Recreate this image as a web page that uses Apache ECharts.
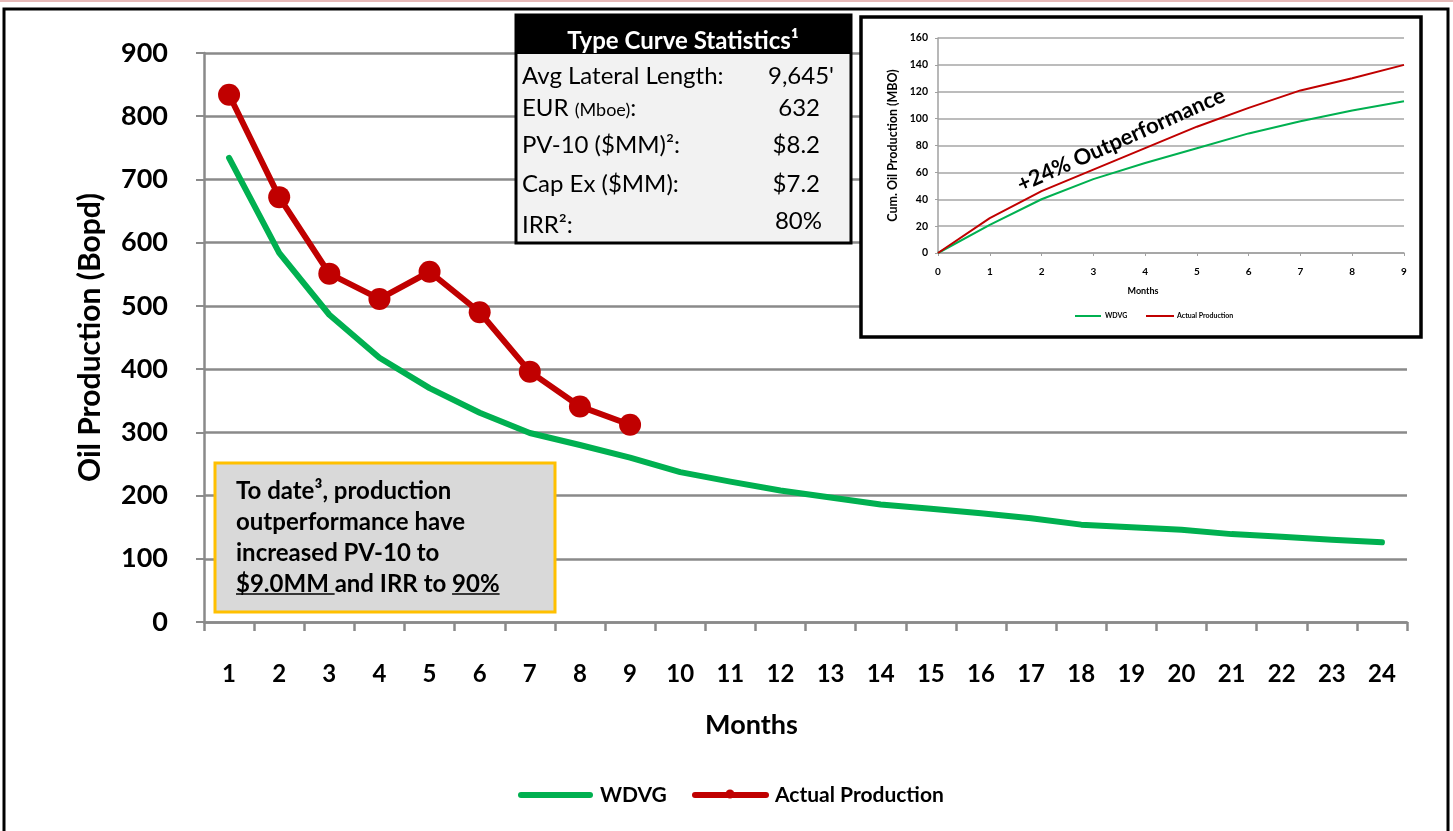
<!DOCTYPE html>
<html>
<head>
<meta charset="utf-8">
<script src="https://cdn.jsdelivr.net/npm/echarts@6/dist/echarts.min.js"></script>
<style>
  html, body { margin: 0; padding: 0; background: #fff; }
  #chart { width: 1453px; height: 831px; }
</style>
</head>
<body>
<div id="chart"></div>
<script>
// Daily oil rate by month: type curve vs. actual wells
const months = ['1','2','3','4','5','6','7','8','9','10','11','12','13','14','15','16','17','18','19','20','21','22','23','24'];
const wdvgRate = [734, 584, 486, 418, 370, 331, 299, 280, 260, 237, 222, 208, 197, 186, 179, 172, 164, 154, 150, 146, 139, 135, 130, 126];
const actualRate = [834, 672, 551, 511, 554, 490, 396, 341, 312];

// Cumulative oil (MBO) for the inset
const cumMonths = ['0','1','2','3','4','5','6','7','8','9'];
const wdvgCum = [0, 21, 40, 55, 67, 78, 89, 98, 106, 113];
const actualCum = [0, 26, 46, 62, 78, 94, 108, 121, 130, 140];

// Type curve statistics table
const statLabels = ['Avg Lateral Length:', 'EUR {s|(Mboe)}:', 'PV-10 ($MM)²:', 'Cap Ex ($MM):', 'IRR²:'];
const statValues = ["9,645'", '632', '$8.2', '$7.2', '80%'];

const GREEN = '#00b050';
const RED = '#c00000';
const GRID = '#8a8a8a';
const FONT = 'Lato, "Open Sans", sans-serif';

const chart = echarts.init(document.getElementById('chart'), null, { renderer: 'canvas' });

// width helper for the underlined phrases in the note box
const measureCtx = document.createElement('canvas').getContext('2d');
function textWidth(str, font) { measureCtx.font = font; return measureCtx.measureText(str).width; }

const noteFont = 'bold 24px ' + FONT;
const noteX = 236;
const noteTop = 476;
const noteLH = 31;
const line4a = '$9.0MM ';
const line4b = 'and IRR to ';
const line4c = '90%';
const w4a = textWidth(line4a, noteFont);
const w4b = textWidth(line4b, noteFont);
const w4c = textWidth(line4c, noteFont);
const ulY = noteTop + noteLH * 3 + 25;

const statsRowY = [76, 108, 145, 184, 225];
const statsValueRight = [834, 820, 820, 820, 822];

const graphics = [
  // page frame
  { type: 'line', shape: { x1: 0, y1: 1, x2: 1453, y2: 1 }, style: { stroke: '#e6b9b8', lineWidth: 2 }, z: 10 },
  { type: 'rect', shape: { x: 4, y: 9, width: 1444, height: 840 }, style: { fill: 'none', stroke: '#000', lineWidth: 3 }, z: 10 },

  // statistics table
  { type: 'rect', shape: { x: 516, y: 15, width: 335, height: 228 }, style: { fill: '#f2f2f2', stroke: '#000', lineWidth: 3 }, z: 3 },
  { type: 'rect', shape: { x: 516, y: 15, width: 335, height: 39 }, style: { fill: '#000' }, z: 3 },
  { type: 'text', x: 683, y: 41, style: { text: 'Type Curve Statistics¹', fill: '#fff', font: 'bold 24px ' + FONT, align: 'center', verticalAlign: 'middle' }, z: 4 }
];

statLabels.forEach(function (lab, i) {
  graphics.push({
    type: 'text', x: 522, y: statsRowY[i],
    style: {
      text: lab, fill: '#000', font: '24px ' + FONT, align: 'left', verticalAlign: 'middle',
      rich: { s: { fontSize: 18, fontFamily: FONT, fill: '#000', padding: [5, 0, 0, 0] } }
    }, z: 4
  });
  graphics.push({
    type: 'text', x: statsValueRight[i], y: statsRowY[i] - (i === 4 ? 4 : 0),
    style: { text: statValues[i], fill: '#000', font: '24px ' + FONT, align: 'right', verticalAlign: 'middle' }, z: 4
  });
});

// note box
graphics.push(
  { type: 'rect', shape: { x: 215, y: 463, width: 340, height: 149 }, style: { fill: '#d9d9d9', stroke: '#ffc000', lineWidth: 3 }, z: 3 },
  { type: 'text', x: noteX, y: noteTop,
    style: { text: 'To date³, production\noutperformance have\nincreased PV-10 to\n' + line4a + line4b + line4c,
             fill: '#000', font: noteFont, lineHeight: noteLH, align: 'left', verticalAlign: 'top' }, z: 4 },
  { type: 'line', shape: { x1: noteX, y1: ulY, x2: noteX + w4a, y2: ulY }, style: { stroke: '#000', lineWidth: 1.5 }, z: 4 },
  { type: 'line', shape: { x1: noteX + w4a + w4b, y1: ulY, x2: noteX + w4a + w4b + w4c, y2: ulY }, style: { stroke: '#000', lineWidth: 1.5 }, z: 4 }
);

// inset frame, annotation and key
graphics.push(
  { type: 'rect', shape: { x: 861, y: 17, width: 560, height: 320 }, style: { fill: '#fff', stroke: '#000', lineWidth: 3.5 }, z: 3 },
  { type: 'text', x: 1121, y: 140, rotation: 24 * Math.PI / 180,
    style: { text: '+24% Outperformance', fill: '#000', font: 'bold 22px ' + FONT, align: 'center', verticalAlign: 'middle' }, z: 8 },
  { type: 'line', shape: { x1: 1075, y1: 316, x2: 1101, y2: 316 }, style: { stroke: GREEN, lineWidth: 2 }, z: 8 },
  { type: 'text', x: 1105, y: 316, style: { text: 'WDVG', fill: '#000', font: 'bold 7px ' + FONT, align: 'left', verticalAlign: 'middle' }, z: 8 },
  { type: 'line', shape: { x1: 1146, y1: 316, x2: 1174, y2: 316 }, style: { stroke: RED, lineWidth: 2 }, z: 8 },
  { type: 'text', x: 1177, y: 316, style: { text: 'Actual Production', fill: '#000', font: 'bold 7px ' + FONT, align: 'left', verticalAlign: 'middle' }, z: 8 }
);

// main key below the plot
graphics.push(
  { type: 'line', shape: { x1: 521, y1: 795, x2: 590, y2: 795 }, style: { stroke: GREEN, lineWidth: 6, lineCap: 'round' }, z: 8 },
  { type: 'text', x: 600, y: 795, style: { text: 'WDVG', fill: '#000', font: 'bold 21px ' + FONT, align: 'left', verticalAlign: 'middle' }, z: 8 },
  { type: 'line', shape: { x1: 695, y1: 795, x2: 766, y2: 795 }, style: { stroke: RED, lineWidth: 6, lineCap: 'round' }, z: 8 },
  { type: 'circle', shape: { cx: 730, cy: 794, r: 4.5 }, style: { fill: RED }, z: 8 },
  { type: 'text', x: 775, y: 795, style: { text: 'Actual Production', fill: '#000', font: 'bold 21px ' + FONT, align: 'left', verticalAlign: 'middle' }, z: 8 }
);

const option = {
  animation: false,
  backgroundColor: '#fff',
  textStyle: { fontFamily: FONT },
  grid: [
    { left: 204, right: 46, top: 53, bottom: 209, containLabel: false },
    { left: 938, right: 49, top: 38, bottom: 578, containLabel: false }
  ],
  xAxis: [
    {
      type: 'category', gridIndex: 0, data: months, boundaryGap: true,
      name: 'Months', nameLocation: 'middle', nameGap: 90,
      nameTextStyle: { fontFamily: FONT, fontWeight: 'bold', fontSize: 27, color: '#000', padding: [0, 108, 0, 0] },
      axisLine: { lineStyle: { color: GRID, width: 2.5 } },
      axisTick: { show: true, alignWithLabel: false, length: 9, lineStyle: { color: GRID, width: 2.5 } },
      axisLabel: { margin: 40, fontFamily: FONT, fontWeight: 'bold', fontSize: 24, color: '#000' },
      splitLine: { show: false }
    },
    {
      type: 'category', gridIndex: 1, data: cumMonths, boundaryGap: false, z: 5,
      name: 'Months', nameLocation: 'middle', nameGap: 34,
      nameTextStyle: { fontFamily: FONT, fontWeight: 'bold', fontSize: 9, color: '#000', padding: [0, 56, 0, 0] },
      axisLine: { lineStyle: { color: '#a0a0a0', width: 1.5 } },
      axisTick: { show: true, length: 3, lineStyle: { color: '#a0a0a0', width: 1 } },
      axisLabel: { margin: 14, fontFamily: FONT, fontWeight: 'bold', fontSize: 10, color: '#000' },
      splitLine: { show: false }
    }
  ],
  yAxis: [
    {
      type: 'value', gridIndex: 0, min: 0, max: 900, interval: 100,
      name: 'Oil Production (Bopd)', nameLocation: 'middle', nameGap: 99, nameRotate: 90,
      nameTextStyle: { fontFamily: FONT, fontWeight: 'bold', fontSize: 30, color: '#000' },
      axisLine: { show: true, lineStyle: { color: GRID, width: 2.5 } },
      axisTick: { show: true, length: 8, lineStyle: { color: GRID, width: 2 } },
      axisLabel: { margin: 36, fontFamily: FONT, fontWeight: 'bold', fontSize: 27, color: '#000' },
      splitLine: { show: true, lineStyle: { color: GRID, width: 2.5 } }
    },
    {
      type: 'value', gridIndex: 1, min: 0, max: 160, interval: 20, z: 5,
      name: 'Cum. Oil Production (MBO)', nameLocation: 'middle', nameGap: 39, nameRotate: 90,
      nameTextStyle: { fontFamily: FONT, fontWeight: 'bold', fontSize: 12.5, color: '#000' },
      axisLine: { show: true, lineStyle: { color: '#a0a0a0', width: 1.5 } },
      axisTick: { show: true, length: 3, lineStyle: { color: '#a0a0a0', width: 1 } },
      axisLabel: { margin: 10, fontFamily: FONT, fontWeight: 'bold', fontSize: 10.5, color: '#000' },
      splitLine: { show: true, lineStyle: { color: '#a6a6a6', width: 1.5 } }
    }
  ],
  series: [
    {
      name: 'WDVG', type: 'line', xAxisIndex: 0, yAxisIndex: 0, data: wdvgRate,
      symbol: 'none', z: 2,
      lineStyle: { color: GREEN, width: 6, cap: 'round', join: 'round' },
      itemStyle: { color: GREEN }
    },
    {
      name: 'Actual Production', type: 'line', xAxisIndex: 0, yAxisIndex: 0, data: actualRate,
      symbol: 'circle', symbolSize: 22, z: 2,
      lineStyle: { color: RED, width: 6, cap: 'round', join: 'round' },
      itemStyle: { color: RED }
    },
    {
      name: 'WDVG', type: 'line', xAxisIndex: 1, yAxisIndex: 1, data: wdvgCum,
      symbol: 'none', z: 6, lineStyle: { color: GREEN, width: 2 }, itemStyle: { color: GREEN }
    },
    {
      name: 'Actual Production', type: 'line', xAxisIndex: 1, yAxisIndex: 1, data: actualCum,
      symbol: 'none', z: 6, lineStyle: { color: RED, width: 2 }, itemStyle: { color: RED }
    }
  ],
  graphic: { elements: graphics }
};

chart.setOption(option);
</script>
</body>
</html>
